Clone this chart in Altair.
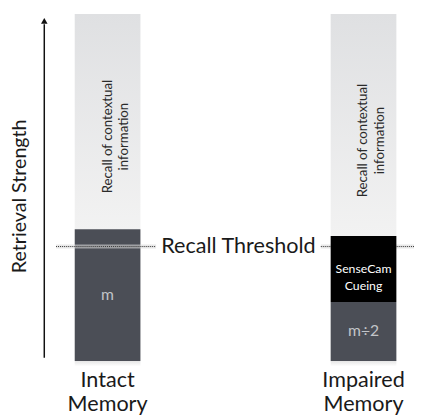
import altair as alt
import pandas as pd

# ---- data (retrieval strength, 0 = bar bottom, 100 = bar top)
categories = ["Intact Memory", "Impaired Memory"]
seg_category = ["Intact Memory", "Intact Memory", "Impaired Memory", "Impaired Memory", "Impaired Memory"]
seg_kind = ["memory", "context", "memory", "cue", "context"]
seg_label = ["m", "Recall of contextual\ninformation", "m÷2", "SenseCam\nCueing", "Recall of contextual\ninformation"]
seg_start = [0, 38, 0, 17, 36]
seg_end = [38, 100, 17, 36, 100]
threshold = 33
axis_title = "Retrieval Strength"
threshold_label = "Recall Threshold"
axis_span = [1, 97]

segments = pd.DataFrame({
    "category": seg_category,
    "kind": seg_kind,
    "label": seg_label,
    "start": seg_start,
    "end": seg_end,
})
cats = pd.DataFrame({"category": categories})

W, H = 414, 412
FONT = "Lato"

xscale = alt.Scale(domain=categories, paddingInner=0.7433, paddingOuter=0.1648, align=0.791)
yscale = alt.Scale(domain=[0, 100], range=[356, 2])
X = alt.X("category:N", scale=xscale, axis=None)

kind_colors = alt.Scale(domain=["memory", "cue", "context"], range=["#4b4e56", "#000000", "#eeeeee"])
text_colors = alt.Scale(domain=["memory", "cue"], range=["#c2c4c8", "#ffffff"])

base = alt.Chart(segments)

light = base.transform_filter(alt.datum.kind == "context").mark_bar(
    fill=alt.Gradient(gradient="linear",
                      stops=[alt.GradientStop(color="#dfe0e2", offset=0),
                             alt.GradientStop(color="#f2f2f2", offset=1)],
                      x1=0, x2=0, y1=0, y2=1),
).encode(x=X, y=alt.Y("start:Q", scale=yscale, axis=None), y2="end:Q")

shadow = alt.Chart(cats).mark_bar(
    fill=alt.Gradient(gradient="linear",
                      stops=[alt.GradientStop(color="#e6e6e6", offset=0),
                             alt.GradientStop(color="#ffffff", offset=1)],
                      x1=0, x2=0, y1=0, y2=1),
).encode(x=X, y=alt.Y(datum=0, scale=yscale, axis=None), y2=alt.Y2(datum=-1.5))

left_dark = base.transform_filter(
    (alt.datum.kind == "memory") & (alt.datum.category == "Intact Memory")
).mark_bar().encode(
    x=X, y=alt.Y("start:Q", scale=yscale, axis=None), y2="end:Q",
    color=alt.Color("kind:N", scale=kind_colors, legend=None),
)

thr = pd.DataFrame({"t": [threshold]})
def thr_rule(x0, x1, **kw):
    return alt.Chart(thr).mark_rule(**kw).encode(
        y=alt.Y("t:Q", scale=yscale, axis=None), x=alt.value(x0), x2=alt.value(x1))

halo_l = thr_rule(49, 151, color="#d8d8d8", strokeWidth=4, opacity=0.6)
halo_r = thr_rule(319, W, color="#d8d8d8", strokeWidth=4, opacity=0.6)
dots_l = thr_rule(49, 151, color="#333333", strokeWidth=1, strokeDash=[1, 1])
dots_r = thr_rule(319, W, color="#333333", strokeWidth=1, strokeDash=[1, 1])

other = base.transform_filter(
    (alt.datum.kind != "context") & (alt.datum.category == "Impaired Memory")
).mark_bar().encode(
    x=X, y=alt.Y("start:Q", scale=yscale, axis=None), y2="end:Q",
    color=alt.Color("kind:N", scale=kind_colors, legend=None),
)

seg_text = base.transform_filter(alt.datum.kind != "context").transform_calculate(
    mid="(datum.start + datum.end) / 2"
).mark_text(font=FONT, lineBreak="\n", baseline="middle", align="center", lineHeight=17).encode(
    x=X, y=alt.Y("mid:Q", scale=yscale, axis=None), text="label:N",
    color=alt.Color("kind:N", scale=text_colors, legend=None),
    size=alt.Size("kind:N", scale=alt.Scale(domain=["memory", "cue"], range=[16, 12.5]), legend=None),
)

ctx_text = base.transform_filter(alt.datum.kind == "context").transform_calculate(
    pos="datum.start + (datum.end - datum.start) * 0.43"
).mark_text(font=FONT, lineBreak="\n", baseline="middle", align="center", angle=270,
            fontSize=13.5, lineHeight=17, color="#2a2a2a").encode(
    x=X, y=alt.Y("pos:Q", scale=yscale, axis=None), text="label:N",
)

thr_text = alt.Chart(pd.DataFrame({"t": [threshold], "label": [threshold_label]})).mark_text(
    font=FONT, fontSize=22, baseline="middle", align="center", color="#1a1a1a"
).encode(x=alt.value(235), y=alt.Y("t:Q", scale=yscale, axis=None), text="label:N")

cat_text = alt.Chart(cats).mark_text(
    font=FONT, fontSize=22, baseline="top", align="center", lineBreak=" ", lineHeight=25, color="#1a1a1a"
).encode(x=X, y=alt.value(365), text="category:N")

arrow_line = alt.Chart(pd.DataFrame({"a": [axis_span[0]], "b": [axis_span[1]]})).mark_rule(
    color="#111111", strokeWidth=1.5).encode(
    x=alt.value(37), y=alt.Y("a:Q", scale=yscale, axis=None), y2="b:Q")
arrow_head = alt.Chart(pd.DataFrame({"b": [axis_span[1] + 1]})).mark_point(
    shape="triangle-up", filled=True, size=45, color="#111111", opacity=1).encode(
    x=alt.value(37), y=alt.Y("b:Q", scale=yscale, axis=None))
axis_text = alt.Chart(pd.DataFrame({"label": [axis_title]})).mark_text(
    font=FONT, fontSize=20, angle=270, baseline="middle", align="center", color="#1a1a1a"
).encode(x=alt.value(12), y=alt.value(188), text="label:N")

chart = alt.layer(
    shadow, light, left_dark, halo_l, halo_r, dots_l, dots_r, other,
    seg_text, ctx_text, thr_text, cat_text, arrow_line, arrow_head, axis_text,
).resolve_scale(color="independent", size="independent").properties(
    width=W, height=H, padding=0, autosize=alt.AutoSizeParams(type="none"),
).configure_view(stroke=None)

chart.save("out.html", embed_options={"renderer": "svg", "actions": False})
